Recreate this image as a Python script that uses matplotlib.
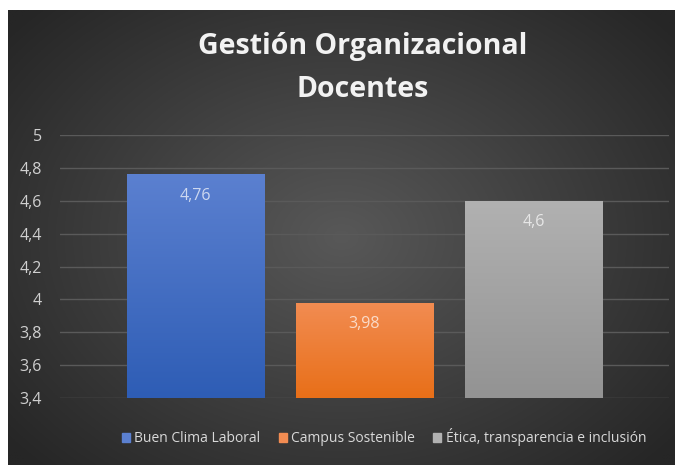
import numpy as np
import matplotlib.pyplot as plt
from matplotlib.ticker import FuncFormatter

# data
series = ["Buen Clima Laboral", "Campus Sostenible", "Ética, transparencia e inclusión"]
values = [4.76, 3.98, 4.6]
top_colors = ["#5b80d0", "#f28c52", "#b1b1b1"]
bottom_colors = ["#2e5db5", "#e86f18", "#939393"]
y_ticks = [3.4, 3.6, 3.8, 4.0, 4.2, 4.4, 4.6, 4.8, 5.0]

plt.rcParams['font.family'] = ['Open Sans', 'DejaVu Sans']

fig = plt.figure(figsize=[6.79, 4.65], dpi=100)
fig.patch.set_facecolor('white')

# dark radial background of the chart area
bg = fig.add_axes([8 / 679, 0, 667 / 679, 455 / 465])
bg.set_axis_off()
yy, xx = np.mgrid[-1:1:300j, -1:1:400j]
r = np.sqrt((xx / 1.0) ** 2 + (yy / 1.1) ** 2)
shade = np.clip(1 - r / 1.3, 0, 1)
c_in = np.array([0x58, 0x58, 0x58]) / 255
c_out = np.array([0x26, 0x26, 0x26]) / 255
img = c_out + (c_in - c_out) * shade[..., None]
bg.imshow(img, extent=[0, 1, 0, 1], aspect='auto', zorder=0)
bg.set_xlim(0, 1)
bg.set_ylim(0, 1)

ax = fig.add_axes([60 / 679, 67 / 465, 609 / 679, 263 / 465])
ax.patch.set_alpha(0)

x = np.arange(len(series))
bars = ax.bar(x, [v - 3.4 for v in values], bottom=3.4, width=0.81,
              color=top_colors, zorder=3)

# gradient fill on each bar
for b, c1, c2 in zip(bars, top_colors, bottom_colors):
    c1 = np.array(plt.matplotlib.colors.to_rgb(c1))
    c2 = np.array(plt.matplotlib.colors.to_rgb(c2))
    t = np.linspace(0, 1, 100)[:, None]
    grad = (c1 + (c2 - c1) * t)[:, None, :]
    x0, y0 = b.get_x(), b.get_y()
    im = ax.imshow(grad, extent=[x0, x0 + b.get_width(), y0, y0 + b.get_height()],
                   aspect='auto', zorder=4)
    im.set_clip_path(b)

for xi, v in zip(x, values):
    ax.text(xi, v - 0.13, f"{v:g}".replace('.', ','), ha='center', va='center',
            color='white', alpha=0.7, fontsize=11.5, zorder=5)

ax.set_xlim(-0.80, 2.80)
ax.set_ylim(3.4, 5.0)
ax.set_yticks(y_ticks)
ax.yaxis.set_major_formatter(FuncFormatter(lambda v, p: f"{v:g}".replace('.', ',')))
ax.grid(axis='y', color='#5a5a5a', linewidth=1, zorder=1)
ax.set_xticks([])
for s in ax.spines.values():
    s.set_visible(False)
ax.tick_params(axis='y', length=0, pad=13, labelcolor='#d0d0d0', labelsize=11.5)

# legend
handles = [plt.Rectangle((0, 0), 1, 1, color=c) for c in top_colors]
fig.legend(handles, series, loc='center', bbox_to_anchor=(384 / 679, 1 - 437 / 465), ncol=3,
           frameon=False, fontsize=10, labelcolor='#d9d9d9', handlelength=0.6,
           handleheight=0.6, handletextpad=0.3, columnspacing=1.3)

fig.text(363 / 679, 1 - 68 / 465, "Gestión Organizacional\nDocentes", ha='center', va='center',
         color='#f2f2f2', fontsize=20.5, fontweight='bold', linespacing=1.65)

fig.savefig('out.png', dpi=100)
